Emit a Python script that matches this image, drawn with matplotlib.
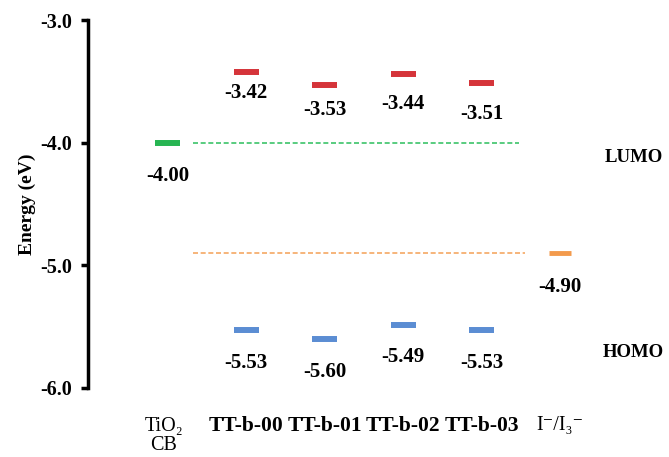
import matplotlib.pyplot as plt

# Energy levels (eV)
categories = ["TiO\u2082\nCB", "TT-b-00", "TT-b-01", "TT-b-02", "TT-b-03", "I\u207b/I\u2083\u207b"]
lumo = [-3.42, -3.53, -3.44, -3.51]
homo = [-5.53, -5.60, -5.49, -5.53]
tio2_cb = -4.00
redox = -4.90
yticks = [-3.0, -4.0, -5.0, -6.0]

serif = ["Liberation Serif", "DejaVu Serif"]
plt.rcParams["font.family"] = serif
plt.rcParams["font.size"] = 14

fig = plt.figure(figsize=(6.69, 4.57), dpi=100)
ax = fig.add_axes([0.1315, 0.151, 0.8685, 0.805])

x = list(range(len(categories)))
dye_x = x[1:5]
bar_w = 0.32

# dashed guides at the TiO2 CB and redox levels
ax.hlines(tio2_cb, 0.32, 4.48, colors="#3cc46a", lw=1.2, linestyles=(0, (3, 1.6)))
ax.hlines(redox, 0.32, 4.55, colors="#f5a863", lw=1.2, linestyles=(0, (3, 1.6)))

ax.hlines(lumo, [p - bar_w / 2 for p in dye_x], [p + bar_w / 2 for p in dye_x],
          colors="#d5343a", lw=4.3)
ax.hlines(homo, [p - bar_w / 2 for p in dye_x], [p + bar_w / 2 for p in dye_x],
          colors="#5b8dd3", lw=4.3)
ax.hlines(tio2_cb, x[0] - bar_w / 2, x[0] + bar_w / 2, colors="#27b552", lw=4.3)
ax.hlines(redox, x[5] - 0.14, x[5] + 0.14, colors="#f39a4c", lw=3.5)

# value labels, offset below each level (pixels)
lumo_offsets = [21, 25, 30, 31]
homo_offsets = [33, 33, 32, 33]
label_kw = dict(textcoords="offset pixels", ha="center", va="center",
                fontsize=15, fontweight="bold")
for px, v, off in zip(dye_x, lumo, lumo_offsets):
    ax.annotate(f"{v:.2f}", (px, v), xytext=(0, -off), **label_kw)
for px, v, off in zip(dye_x, homo, homo_offsets):
    ax.annotate(f"{v:.2f}", (px, v), xytext=(0, -off), **label_kw)
ax.annotate(f"{tio2_cb:.2f}", (x[0], tio2_cb), xytext=(0, -33), **label_kw)
ax.annotate(f"{redox:.2f}", (x[5], redox), xytext=(0, -34), **label_kw)

ax.text(5.94, -4.12, "LUMO", ha="center", va="center", fontsize=13.5, fontweight="bold")
ax.text(5.94, -5.71, "HOMO", ha="center", va="center", fontsize=13.5, fontweight="bold")

# category labels under the axis
for i, name in enumerate(categories):
    bold = name.startswith("TT")
    two_line = "\n" in name
    ax.annotate(name, (x[i] - (0.05 if i == 0 else 0), -6.0),
                xytext=(0, -48 if two_line else -38), textcoords="offset pixels",
                ha="center", va="center", fontsize=15.5 if bold else 14.5,
                fontweight="bold" if bold else "normal", linespacing=1.05,
                annotation_clip=False)

ax.set_xlim(-1.02, 6.39)
ax.set_ylim(-6.0, -3.0)
ax.set_yticks(yticks)
ax.set_yticklabels([f"{t:.1f}" for t in yticks], fontweight="bold")
ax.set_xticks([])
ax.tick_params(axis="y", direction="out", length=5, width=2.5, pad=6.5, labelsize=14.5)
for side in ["top", "right", "bottom"]:
    ax.spines[side].set_visible(False)
ax.spines["left"].set_linewidth(2.5)
ax.set_ylabel("Energy (eV)", fontsize=14, fontweight="bold")
ax.yaxis.set_label_coords(-0.09, 0.5)

fig.savefig("out.png", dpi=100)
